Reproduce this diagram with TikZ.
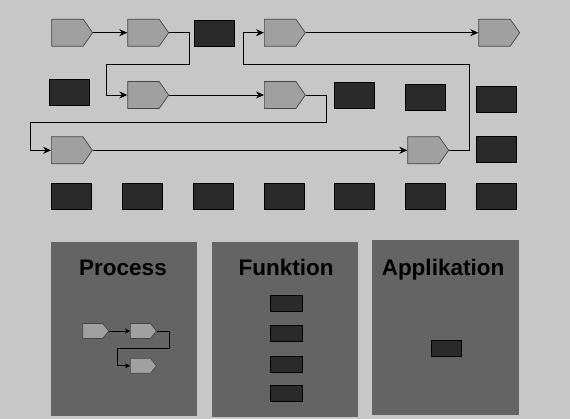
\documentclass[tikz,border=0pt]{standalone}
\usepackage{fontspec}
\setmainfont{Liberation Sans}
\usepackage{tikz}
\usetikzlibrary{positioning,calc,shapes.symbols,arrows.meta}
\definecolor{bggray}{RGB}{199,199,199}
\definecolor{panelgray}{RGB}{100,100,100}
\definecolor{actgray}{RGB}{160,160,160}
\definecolor{actline}{RGB}{70,70,70}
\definecolor{boxdark}{RGB}{42,42,42}

\begin{document}
\begin{tikzpicture}[x=1pt,y=-1pt,
					act/.style={
						signal, signal to=east, signal pointer angle=110,
						draw=actline, fill=actgray, line width=0.7pt,
						minimum width=41pt, minimum height=27pt, inner sep=0pt,
						anchor=west
					},
					smallact/.style={
						act, signal pointer angle=104,
						minimum width=26pt, minimum height=15pt
					},
					fbox/.style={
						draw=black, fill=boxdark, line width=0.8pt,
						minimum width=40pt, minimum height=26pt, inner sep=0pt
					},
					smallfbox/.style={
						fbox, minimum width=32pt, minimum height=16pt
					},
					panel/.style={
						fill=panelgray, inner sep=0pt
					},
					title/.style={
						font=\fontsize{22.5}{27}\selectfont\bfseries, anchor=base
					},
					flow/.style={
						draw=black, line width=0.8pt, -{Stealth[length=8pt,width=7pt]}
					},
					smallflow/.style={
						draw=black, line width=0.7pt, -{Stealth[length=5pt,width=5pt]}
					}
					]
					\fill[bggray] (0,0) rectangle (570,419);
					\useasboundingbox (0,0) rectangle (570,419);
					% Prozesskette oben
					\node[act] (a1) at (51.3, 32.7)  {};
					\node[act] (a2) at (127.3, 32.7) {};
					\node[act] (a3) at (264, 32.7)   {};
					\node[act] (a4) at (478.3, 32.7) {};
					\node[act] (a5) at (127.3, 95)   {};
					\node[act] (a6) at (264, 95)     {};
					\node[act] (a7) at (51, 150.3)   {};
					\node[act] (a8) at (407.3, 150.3){};
					% Funktionen
					\node[fbox] (f1) at (214.3, 33.3) {};
					\node[fbox] (f2) at (69.3, 92.5)  {};
					\node[fbox] (f3) at (354.5, 95.3) {};
					\node[fbox] (f4) at (425.5, 97.3) {};
					\node[fbox] (f5) at (496.5, 99.5) {};
					\node[fbox] (f6) at (496.5, 149.5){};
					\foreach \x [count=\i from 7] in {71.5,142,213,284,354.5,425.5,496.5}
						\node[fbox] (f\i) at (\x, 196.2) {};
					% Verbindungen
					\draw[flow] (a1.east) -- (a2.west);
					\draw[flow] (a2.east) -- ++(20.6,0) |- (106.7,64) |- (a5.west);
					\draw[flow] (a5.east) -- (a6.west);
					\draw[flow] (a6.east) -- ++(21,0) |- (30.7,122.3) |- (a7.west);
					\draw[flow] (a7.east) -- (a8.west);
					\draw[flow] (a8.east) -- ++(20.3,0) |- (243.3,64) |- (a3.west);
					\draw[flow] (a3.east) -- (a4.west);
					% Ebenen unten
					\node[panel, minimum width=145.7pt, minimum height=173.7pt] (pproc) at (123.8, 329.2) {};
					\node[panel, minimum width=146pt, minimum height=174.4pt] (pfunk) at (285, 329.5) {};
					\node[panel, minimum width=147pt, minimum height=174.7pt] (papp) at (445.5, 327.3) {};
					\node[title] (tproc) at (123, 276) {Process};
					\node[title] (tfunk) at (286, 276) {Funktion};
					\node[title] (tapp) at (443, 276) {Applikation};
					% kleine Prozesskette
					\node[smallact] (s1) at (82.3, 331)  {};
					\node[smallact] (s2) at (130, 331)   {};
					\node[smallact] (s3) at (130, 365.8) {};
					\draw[smallflow] (s1.east) -- (s2.west);
					\draw[smallflow] (s2.east) -- ++(12.6,0) |- (117.7,348.3) |- (s3.west);
					% kleine Funktionen
					\foreach \y [count=\i] in {303.3,333.3,364.3,393.3}
						\node[smallfbox] (k\i) at (286.3, \y) {};
					\node[smallfbox, minimum width=30.7pt] (k5) at (446.3, 348.3) {};
				\end{tikzpicture}
\end{document}
